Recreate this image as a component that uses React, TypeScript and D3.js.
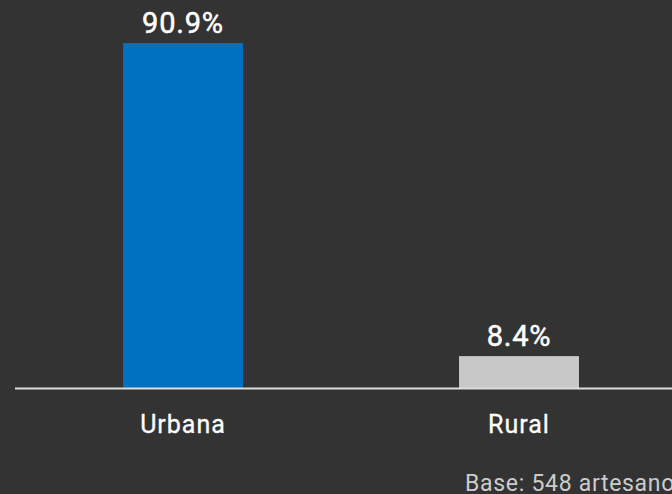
import React, { useEffect, useRef } from "react";
import * as d3 from "d3";

const categories = ["Urbana", "Rural"];
const values = [90.9, 8.4];
const barColors = ["#0070C0", "#C8C8C8"];
const baseNote = "Base: 548 artesanos";

const W = 672;
const H = 494;
const FONT = "Roboto, 'DejaVu Sans', sans-serif";

export default function App() {
  const svgRef = useRef<SVGSVGElement>(null);

  useEffect(() => {
    document.body.style.margin = "0";
    document.body.style.background = "#333333";
    const svg = d3.select(svgRef.current);
    svg.selectAll("*").remove();

    const baseY = 388;
    const X = d3
      .scaleBand<string>()
      .domain(categories)
      .range([15, 687])
      .paddingInner(0.643)
      .paddingOuter(0.3215);
    const Y = d3.scaleLinear().domain([0, 90.9]).range([baseY, 43]);

    svg
      .append("rect")
      .attr("width", W)
      .attr("height", H)
      .attr("fill", "#333333");

    svg
      .selectAll("rect.bar")
      .data(values)
      .enter()
      .append("rect")
      .attr("class", "bar")
      .attr("x", (d, i) => X(categories[i]))
      .attr("width", X.bandwidth())
      .attr("y", (d) => Y(d))
      .attr("height", (d) => baseY - Y(d))
      .attr("fill", (d, i) => barColors[i]);

    // baseline
    svg
      .append("line")
      .attr("x1", 15)
      .attr("x2", W)
      .attr("y1", baseY + 0.5)
      .attr("y2", baseY + 0.5)
      .attr("stroke", "#dddddd")
      .attr("stroke-width", 2);

    // value labels
    svg
      .selectAll("text.val")
      .data(values)
      .enter()
      .append("text")
      .attr("class", "val")
      .attr("x", (d, i) => X(categories[i]) + X.bandwidth() / 2)
      .attr("y", (d) => Y(d) - 10)
      .attr("text-anchor", "middle")
      .attr("fill", "#ffffff")
      .attr("stroke", "#ffffff")
      .attr("stroke-width", 0.5)
      .attr("font-family", FONT)
      .attr("font-size", 29)
      .attr("letter-spacing", 0.8)
      .text((d) => d.toFixed(1) + "%");

    // category labels
    svg
      .selectAll("text.cat")
      .data(categories)
      .enter()
      .append("text")
      .attr("class", "cat")
      .attr("x", (d) => X(d) + X.bandwidth() / 2)
      .attr("y", 433)
      .attr("text-anchor", "middle")
      .attr("fill", "#ffffff")
      .attr("stroke", "#ffffff")
      .attr("stroke-width", 0.3)
      .attr("font-family", FONT)
      .attr("font-size", 25)
      .attr("letter-spacing", 1)
      .text((d) => d);

    svg
      .append("text")
      .attr("x", 465)
      .attr("y", 491)
      .attr("fill", "#cccccc")
      .attr("font-family", FONT)
      .attr("font-size", 23)
      .attr("letter-spacing", 0.7)
      .text(baseNote);
  }, []);

  return <svg ref={svgRef} width={W} height={H} style={{ display: "block" }} />;
}
